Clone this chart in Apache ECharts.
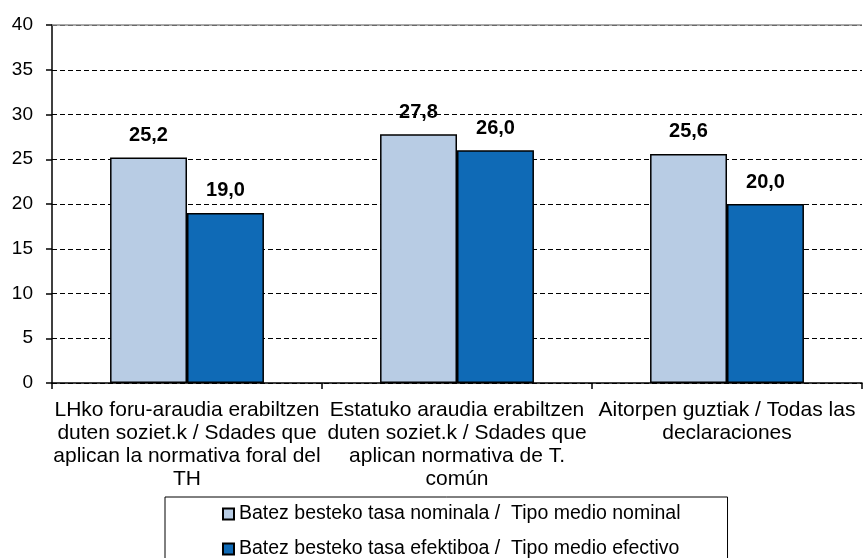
<!DOCTYPE html>
<html>
<head>
<meta charset="utf-8">
<script src="https://cdn.jsdelivr.net/npm/echarts@6/dist/echarts.min.js"></script>
<style>
  html, body { margin: 0; padding: 0; background: #fff; }
  #chart { width: 864px; height: 558px; }
</style>
</head>
<body>
<div id="chart"></div>
<script>
// categories (wrapped as in the original)
const categories = [
  'LHko foru-araudia erabiltzen\nduten soziet.k / Sdades que\naplican la normativa foral del\nTH',
  'Estatuko araudia erabiltzen\nduten soziet.k / Sdades que\naplican normativa de T.\ncomún',
  'Aitorpen guztiak / Todas las\ndeclaraciones'
];
const seriesNames = [
  'Batez besteko tasa nominala /  Tipo medio nominal',
  'Batez besteko tasa efektiboa /  Tipo medio efectivo'
];
const nominal = [25.2, 27.8, 25.6];
const efectivo = [19.0, 26.0, 20.0];
const yTicks = { min: 0, max: 40, interval: 5 };

const chart = echarts.init(document.getElementById('chart'));
const font = 'Liberation Sans, Arial, sans-serif';

const labelOpt = {
  show: true,
  position: 'top',
  distance: 12,
  fontFamily: font,
  fontSize: 20,
  fontWeight: 'bold',
  color: '#000',
  formatter: p => p.value.toFixed(1).replace('.', ',')
};

chart.setOption({
  animation: false,
  textStyle: { fontFamily: font },
  grid: { left: 52, right: 2, top: 25, bottom: 175 },
  legend: {
    orient: 'vertical',
    left: 165,
    top: 497,
    height: 90,
    padding: [7, 47, 6, 57],
    itemGap: 15,
    itemWidth: 11,
    itemHeight: 11,
    borderColor: '#000',
    borderWidth: 1,
    icon: 'rect',
    textStyle: { fontFamily: font, fontSize: 19.5, color: '#000' },
    data: seriesNames
  },
  xAxis: {
    type: 'category',
    data: categories,
    axisLine: { lineStyle: { color: '#000', width: 1.5 } },
    axisTick: { show: true, length: 6, lineStyle: { color: '#000', width: 1.5 } },
    axisLabel: {
      interval: 0,
      margin: 16,
      fontFamily: font,
      fontSize: 21,
      lineHeight: 23,
      color: '#000'
    }
  },
  yAxis: {
    type: 'value',
    min: yTicks.min,
    max: yTicks.max,
    interval: yTicks.interval,
    axisLine: { show: true, lineStyle: { color: '#000', width: 1.5 } },
    axisTick: { show: true, length: 6, lineStyle: { color: '#000', width: 1.5 } },
    axisLabel: { fontFamily: font, fontSize: 19, color: '#000', margin: 19 },
    splitLine: {
      lineStyle: { color: '#000', type: [5, 3], width: 1 }
    }
  },
  series: [
    {
      name: seriesNames[0],
      type: 'bar',
      data: nominal,
      barGap: '0%',
      barCategoryGap: '43%',
      itemStyle: { color: '#B8CCE4', borderColor: '#000', borderWidth: 1.5 },
      label: labelOpt
    },
    {
      name: seriesNames[1],
      type: 'bar',
      data: efectivo,
      itemStyle: { color: '#0F6AB6', borderColor: '#000', borderWidth: 1.5 },
      label: labelOpt
    }
  ],
  graphic: [
    // top border line of the plot area (solid gray at 40)
    {
      type: 'line',
      shape: { x1: 52, y1: 25, x2: 862, y2: 25 },
      style: { stroke: '#8c8c8c', lineWidth: 1.5 },
      z: 5
    }
  ]
});
</script>
</body>
</html>
